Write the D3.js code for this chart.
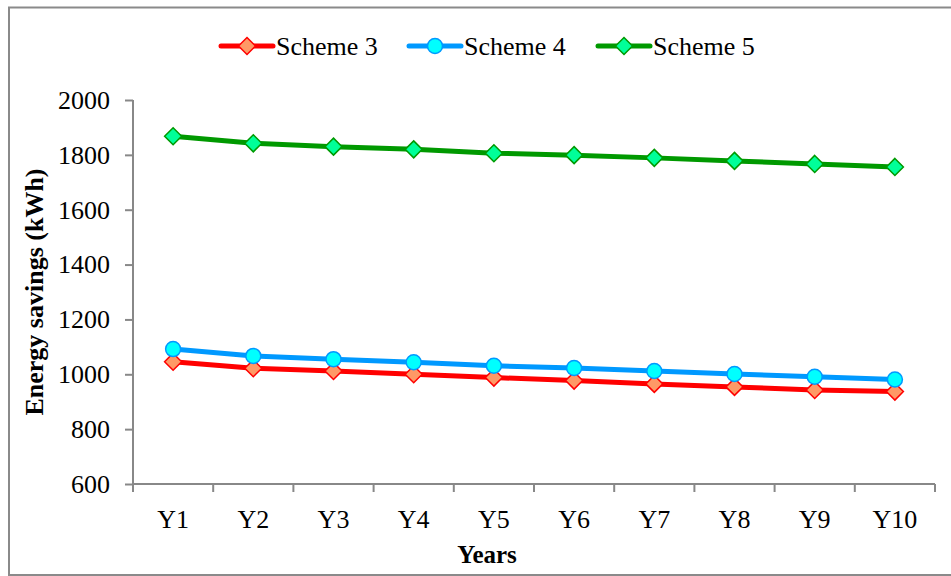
<!DOCTYPE html>
<html>
<head>
<meta charset="utf-8">
<script src="https://cdn.jsdelivr.net/npm/d3@7"></script>
<style>
  html, body { margin: 0; padding: 0; background: #fff; }
  svg { display: block; }
  text { font-family: "Liberation Serif", "Times New Roman", serif; fill: #000; }
</style>
</head>
<body>
<svg id="chart" width="951" height="576"></svg>
<script>
const categories = ["Y1","Y2","Y3","Y4","Y5","Y6","Y7","Y8","Y9","Y10"];
const scheme3 = [1046, 1022, 1012, 1000, 988, 977, 965, 954, 943, 937];
const scheme4 = [1092, 1067, 1055, 1044, 1031, 1023, 1012, 1001, 991, 981];
const scheme5 = [1868, 1842, 1830, 1820, 1806, 1799, 1789, 1778, 1767, 1756];
const yTicks = [600, 800, 1000, 1200, 1400, 1600, 1800, 2000];
const seriesNames = ["Scheme 3", "Scheme 4", "Scheme 5"];
const yTitle = "Energy savings (kWh)";
const xTitle = "Years";

const series = [
  { name: seriesNames[0], values: scheme3, line: "#FF0000", fill: "#FF9966", stroke: "#FF0000", shape: "diamond" },
  { name: seriesNames[1], values: scheme4, line: "#0099FF", fill: "#00FFFF", stroke: "#0099FF", shape: "circle" },
  { name: seriesNames[2], values: scheme5, line: "#009900", fill: "#00FF99", stroke: "#009900", shape: "diamond" }
];

const svg = d3.select("#chart");
const pLeft = 133, pRight = 935, pTop = 100, pBottom = 484;

// outer border
svg.append("rect").attr("x", 9).attr("y", 7.5).attr("width", 960).attr("height", 567.5)
  .attr("fill", "none").attr("stroke", "#8a8a8a").attr("stroke-width", 2);

const x = d3.scaleBand().domain(categories).range([pLeft, pRight]).padding(0);
const y = d3.scaleLinear().domain([600, 2000]).range([pBottom, pTop]);

const axisColor = "#888";

// y axis
const yAxis = svg.append("g").attr("transform", `translate(${pLeft},0)`)
  .call(d3.axisLeft(y).tickValues(yTicks).tickSize(8).tickPadding(15).tickFormat(d3.format("d")));
yAxis.select(".domain").attr("stroke", axisColor).attr("stroke-width", 2).attr("d", `M0,${pBottom}V${pTop}`);
yAxis.selectAll(".tick line").attr("stroke", axisColor).attr("stroke-width", 2);
yAxis.selectAll(".tick text").attr("font-size", 26).attr("font-family", "Liberation Serif").attr("fill", "#000");

// x axis
const xAxis = svg.append("g").attr("transform", `translate(0,${pBottom})`)
  .call(d3.axisBottom(x).tickSize(0).tickPadding(26));
xAxis.select(".domain").attr("stroke", axisColor).attr("stroke-width", 2).attr("d", `M${pLeft},0H${pRight}`);
xAxis.selectAll(".tick text").attr("font-size", 26).attr("font-family", "Liberation Serif").attr("fill", "#000");
const boundaries = categories.map(c => x(c)).concat([x(categories[categories.length-1]) + x.bandwidth()]);
xAxis.selectAll(".bnd").data(boundaries).enter().append("line")
  .attr("x1", d => d).attr("x2", d => d).attr("y1", 0).attr("y2", 8)
  .attr("stroke", axisColor).attr("stroke-width", 2);

// titles
svg.append("text").attr("x", 487).attr("y", 563).attr("text-anchor", "middle")
  .attr("font-size", 25).attr("font-weight", "bold").text(xTitle);
svg.append("text").attr("transform", "translate(43,292) rotate(-90)").attr("text-anchor", "middle")
  .attr("font-size", 26).attr("font-weight", "bold").text(yTitle);

const cx = c => x(c) + x.bandwidth() / 2;
const line = d3.line().x((d, i) => cx(categories[i])).y(d => y(d));

function drawMarker(g, shape, px, py, fill, stroke) {
  if (shape === "circle") {
    g.append("circle").attr("cx", px).attr("cy", py).attr("r", 7.5)
      .attr("fill", fill).attr("stroke", stroke).attr("stroke-width", 1.5);
  } else {
    const s = 8.5;
    g.append("path").attr("d", `M${px},${py - s}L${px + s},${py}L${px},${py + s}L${px - s},${py}Z`)
      .attr("fill", fill).attr("stroke", stroke).attr("stroke-width", 1.5);
  }
}

series.forEach(s => {
  const g = svg.append("g");
  g.append("path").datum(s.values).attr("d", line).attr("fill", "none")
    .attr("stroke", s.line).attr("stroke-width", 5).attr("stroke-linejoin", "round");
  s.values.forEach((v, i) => drawMarker(g, s.shape, cx(categories[i]), y(v), s.fill, s.stroke));
});

// legend
const legendX = [221, 409, 598];
const legendY = 46;
series.forEach((s, i) => {
  const g = svg.append("g");
  const x0 = legendX[i];
  g.append("line").attr("x1", x0).attr("x2", x0 + 52).attr("y1", legendY).attr("y2", legendY)
    .attr("stroke", s.line).attr("stroke-width", 5).attr("stroke-linecap", "round");
  drawMarker(g, s.shape, x0 + 26, legendY, s.fill, s.stroke);
  g.append("text").attr("x", x0 + 55).attr("y", legendY + 9).attr("font-size", 26).text(s.name);
});
</script>
</body>
</html>
